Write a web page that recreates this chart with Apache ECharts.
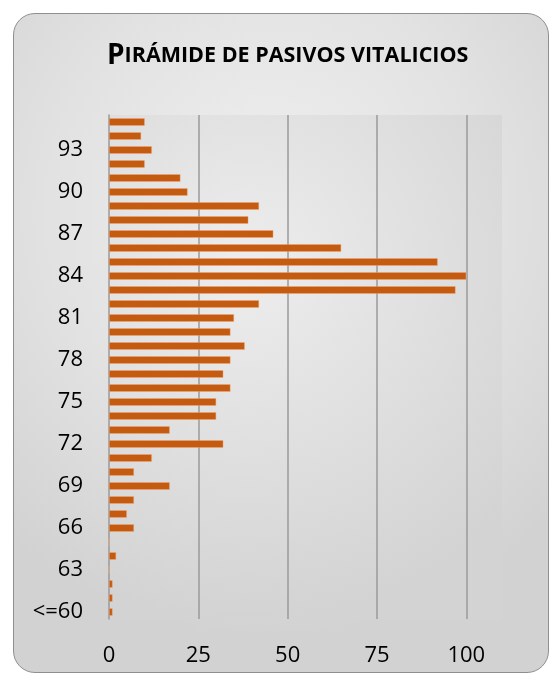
<!DOCTYPE html>
<html>
<head>
<meta charset="utf-8">
<script src="https://cdn.jsdelivr.net/npm/echarts@6/dist/echarts.min.js"></script>
<style>
html,body{margin:0;padding:0;background:#fff;width:552px;height:675px;overflow:hidden;}
#card{position:absolute;left:13px;top:13px;width:534px;height:658px;border:1px solid #8f8f8f;border-radius:22px;
background:radial-gradient(ellipse 75% 65% at 48% 30%, #f0f0f0 0%, #e2e2e2 55%, #d2d2d2 100%);}
#chart{position:absolute;left:0;top:0;width:552px;height:675px;}
</style>
</head>
<body>
<div id="card"></div>
<div id="chart"></div>
<script>
const categories = ['<=60','61','62','63','64','65','66','67','68','69','70','71','72','73','74','75','76','77','78','79','80','81','82','83','84','85','86','87','88','89','90','91','92','93','94','95'];
const values = [1,1,1,0,2,0,7,5,7,17,7,12,32,17,30,30,34,32,34,38,34,35,42,97,100,92,65,46,39,42,22,20,10,12,9,10];
const xTicks = [0,25,50,75,100];
const titleText = 'Pirámide de pasivos vitalicios';

const chart = echarts.init(document.getElementById('chart'), null, {renderer:'canvas'});
const up = titleText.toUpperCase();
chart.setOption({
  backgroundColor: 'transparent',
  title: {
    text: '{a|' + up.charAt(0) + '}{b|' + up.slice(1) + '}',
    left: 102, top: 37,
    textStyle: {
      rich: {
        a: {fontFamily: 'Open Sans', fontWeight: 'bold', fontSize: 28, color: '#000'},
        b: {fontFamily: 'Open Sans', fontWeight: 'bold', fontSize: 21.5, color: '#000'}
      }
    }
  },
  grid: {
    left: 109, right: 50, top: 115, bottom: 56, show: true, borderWidth: 0,
    backgroundColor: new echarts.graphic.RadialGradient(0.35, 0.3, 0.9, [
      {offset: 0, color: '#ededed'}, {offset: 1, color: '#d3d3d3'}
    ])
  },
  xAxis: {
    type: 'value', min: 0, max: 110, interval: 25,
    axisLine: {show: false}, axisTick: {show: false},
    splitLine: {show: true, showMaxLine: false, showMinLine: false, lineStyle: {color: '#9a9a9a', width: 1.5}},
    axisLabel: {
      fontFamily: 'Open Sans', fontSize: 22, color: '#000', margin: 26,
      showMaxLabel: false,
      formatter: v => xTicks.indexOf(v) >= 0 ? String(v) : ''
    }
  },
  yAxis: {
    type: 'category', data: categories,
    axisLine: {show: true, lineStyle: {color: '#9a9a9a', width: 1.5}},
    axisTick: {show: false},
    axisLabel: {interval: 2, fontFamily: 'Open Sans', fontSize: 22, color: '#000', margin: 26}
  },
  series: [{
    type: 'bar', data: values, barCategoryGap: '46%',
    itemStyle: {color: '#c55a11', borderColor: 'rgba(240,170,120,0.7)', borderWidth: 0.6},
    silent: true
  }],
  animation: false
});
</script>
</body>
</html>
